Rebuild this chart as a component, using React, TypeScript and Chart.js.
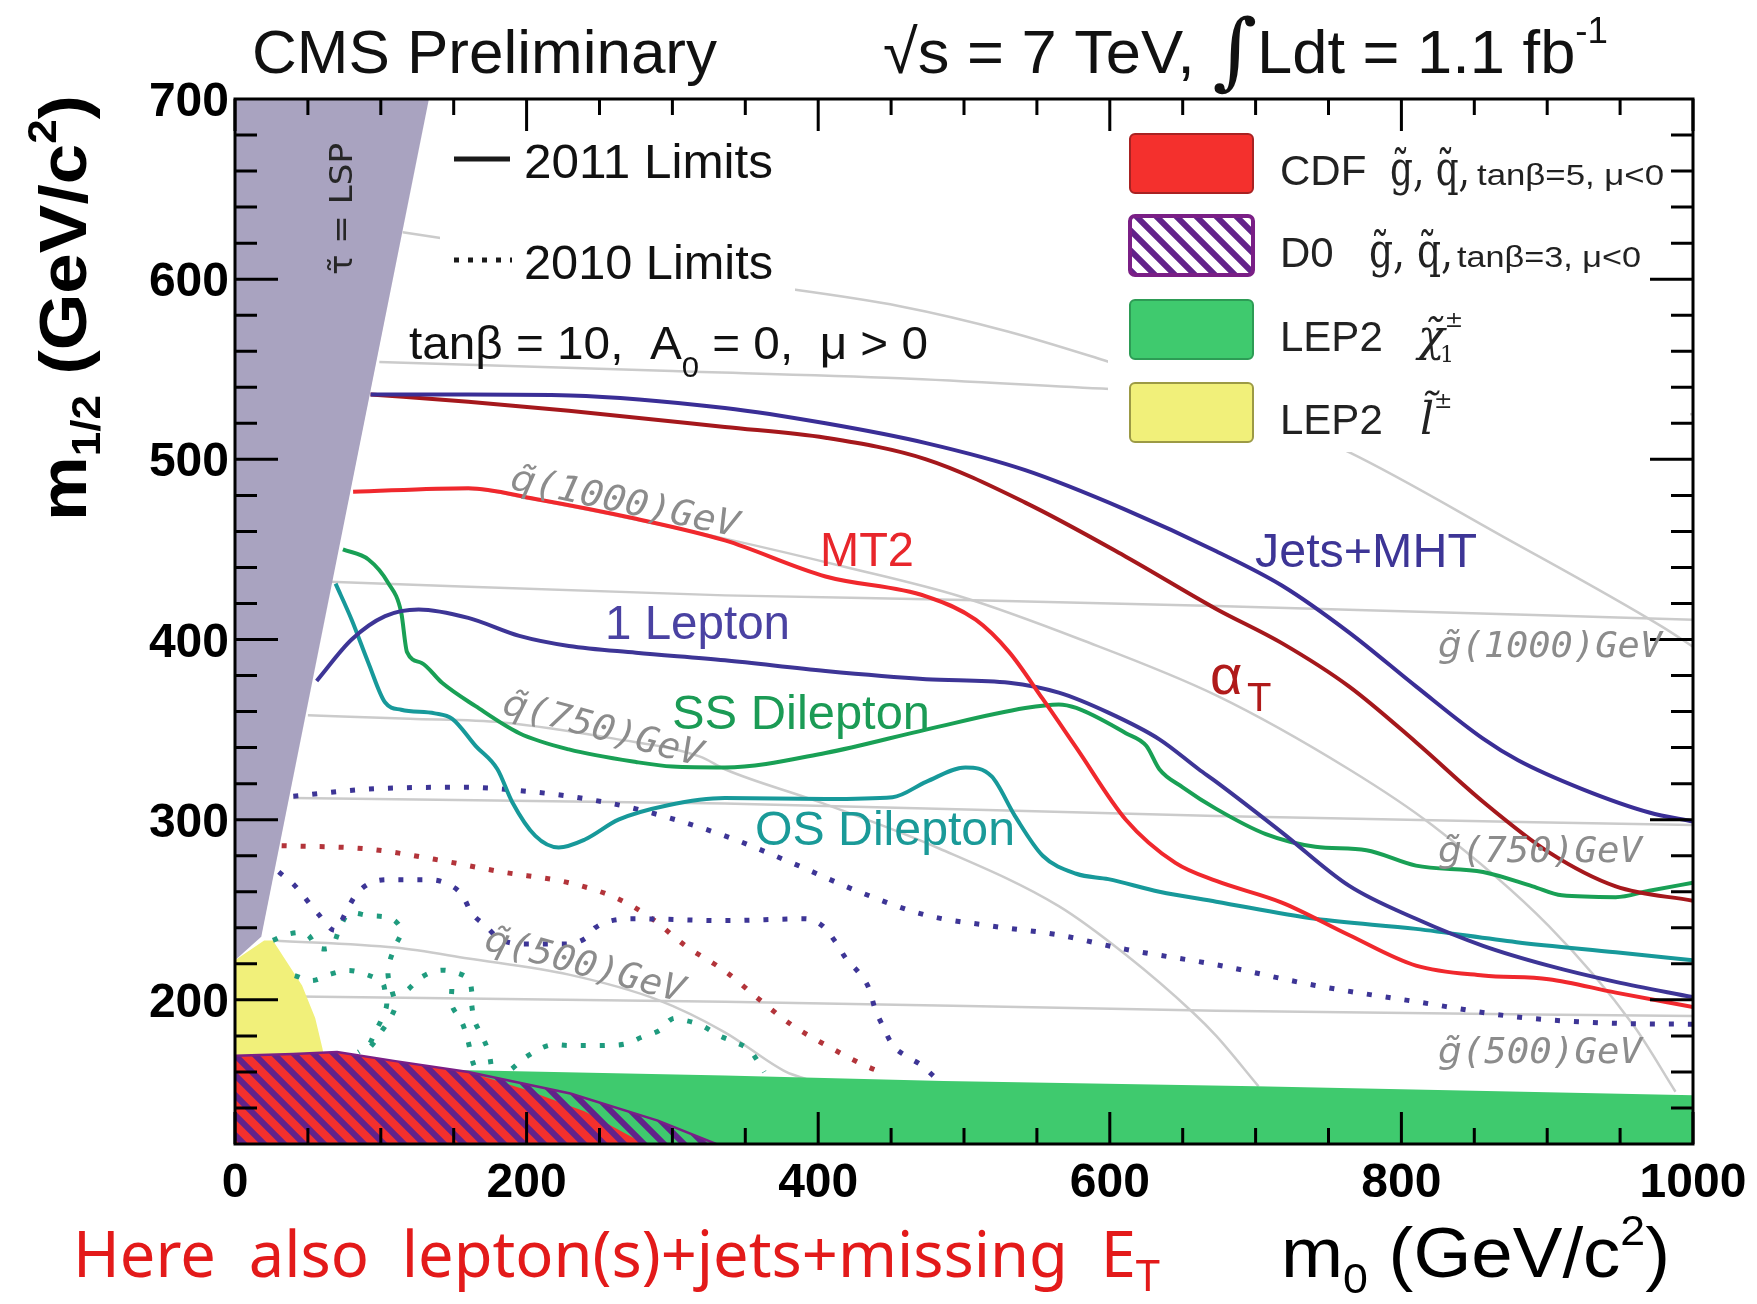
import React, { useEffect, useRef } from 'react';
import { Chart, registerables } from 'chart.js';

Chart.register(...registerables);

type P = [number, number];

// ---- axis ticks ----
const X_TICKS = [0, 200, 400, 600, 800, 1000];
const Y_TICKS = [200, 300, 400, 500, 600, 700];

// ---- 2011 limits (solid) ----
const JETS_MHT: P[] = [[93,536],[160,536],[230,535.5],[336,528.5],[405,520],[474,509],[542,494],[611,472],[673,449],[718,430],[764,404],[810,374],[856,345],[880,333],[924,317],[970,304],[1000,299]];
const ALPHA_T: P[] = [[93,536],[160,532],[229,527],[336,518],[405,512],[474,500],[542,476],[611,446],[673,417],[718,398],[764,374],[810,343],[856,310],[901,282],[947,263],[1000,255]];
const MT2: P[] = [[81,482],[160,484],[206,478],[275,467],[336,455],[405,435],[474,424],[508,411],[531,393],[554,367],[577,340],[611,300],[645,276],[673,266],[718,254],[764,236],[810,219],[856,213.5],[901,211.5],[947,204],[1000,196]];
const ONE_LEPTON: P[] = [[56,377],[80,400],[103,413],[126,416.7],[160,412],[195,402],[229,396.4],[275,392.7],[336,388.5],[405,382.5],[474,378],[531,376],[565,370.5],[599,359.4],[634,344.6],[661,328],[673,321],[718,293],[764,263.4],[810,245],[856,230],[901,219],[947,210],[1000,201.5]];
const SS_DILEPTON: P[] = [[74,450],[91.5,444.4],[105,431.5],[114,415],[118,393],[128,387],[142,376],[165,363],[195,348],[229,339],[275,332],[300,329.5],[336,329],[405,337],[474,350],[542,362],[565,364],[577,362],[611,348],[625,341],[634,328],[650,318],[673,306],[707,292],[741,285],[776,283],[810,274.5],[856,271],[890,263],[910,258],[947,257],[970,260.6],[1000,265]];
const OS_DILEPTON: P[] = [[69,431],[80,411],[91.5,387],[103,365],[114,361],[137,359],[149,356],[165,341],[180,328],[190,310],[206,291],[222,284.6],[240,289],[263,300],[297,308],[336,312],[405,311.5],[451,312.5],[474,321],[501,329],[519,324],[535,302],[554,280],[577,270],[599,267],[634,260],[673,254.5],[741,245],[810,239.4],[879,232],[947,226.4],[1000,222]];

// ---- 2010 limits (dotted) ----
const DOT_BLUE_A: P[] = [[40,313],[91.5,317],[160,318],[183,317],[229,313],[275,306],[336,291],[382,276],[428,260],[474,247],[519,241],[565,236],[611,228],[673,219.5],[741,208],[810,199],[879,190.5],[947,187],[1000,186.5]];
const DOT_BLUE_B: P[] = [[30,271],[41,263.4],[57,247.7],[68.6,238.5],[75.5,247.7],[82.4,257.8],[91.5,264.3],[105,266.7],[133,266.7],[146,264.3],[156,258],[162,248.6],[172,241],[181,234],[200,231],[225,231],[240,234],[247,240],[258.5,244],[275,245],[336,244],[391,245],[403,241],[412,232],[419,223],[428,215],[435,206],[439,195],[444,186],[451,175],[460,169],[471,163.6],[480,157]];
const DOT_RED: P[] = [[32,285.6],[91.5,283.7],[137,278],[183,271],[229,265],[263,256],[286,245],[309,230],[336,216],[359,200.6],[382,186],[405,175],[432,163.6],[446,159]];
const DOT_GREEN_1: P[] = [[26,233],[37,236.6],[49,236.6],[57,229],[66,229.5],[72,240],[78,247.7],[91.5,246.8],[107.5,245],[114,238.5],[110,230],[106,221],[105,213.5],[108,204],[110,197],[106,189],[100,182],[94,175],[88,170]];
const DOT_GREEN_2: P[] = [[41,213.5],[52.6,210.7],[66,214.4],[78,216.3],[89,214.4],[100.7,209.8],[103,204.3],[104,197],[100.7,189.5],[96,182],[91.5,174.7],[84.6,171]];
const DOT_GREEN_3: P[] = [[119,206],[128,212.6],[139.6,216.3],[151,215.3],[160,211.6],[162.4,204.3],[162.4,197],[164.7,187.6],[169.3,180.2],[174,171],[176,162]];
const DOT_GREEN_4: P[] = [[148.7,206],[148.7,197],[155.6,187.6],[160,176.5],[162.4,167.3],[164.7,161.8]];
const DOT_GREEN_5: P[] = [[190,161.8],[201,169],[215,174.7],[229,174.7],[242.5,174.7],[254,174.7],[268,175.6],[279,179.3],[291,183],[300,189.5],[309,188.6],[320,185.8],[332,180.2],[343,176.5],[352,172.8],[359,165.5],[363,160]];

// ---- excluded regions ----
const LSP_EDGE: P[] = [[0,222],[18,235],[133,700]];
const LEP2_SLEPTON: P[] = [[0,222],[20,233],[26,233],[34,223],[46,208],[55,190],[60,173],[63,160]];
const LEP2_CHARGINO: P[] = [[0,161],[160,161],[336,158],[486,155],[700,152],[1000,147]];
const CDF_REGION: P[] = [[0,169],[40,170],[70,171],[110,166],[160,160],[200,150],[240,138],[281,120]];
const D0_REGION: P[] = [[0,169],[40,170],[70,171],[110,166],[160,160],[230,148],[290,133],[330,120]];

// ---- squark / gluino iso-mass contours ----
const SQ1250: P[] = [[115,626],[230,612],[350,598],[456,585],[530,571],[596,555],[680,533],[764,504],[870,457],[979,407],[1000,396]];
const GL1250: P[] = [[99,554],[300,549],[456,545],[600,539],[800,532],[1000,525]];
const SQ1000: P[] = [[82,482],[160,483.5],[206,477.5],[275,466.5],[336,456],[420,440],[497,424],[580,400],[673,369],[764,328],[821,297],[901,241],[959,186],[988,149]];
const SQ750: P[] = [[50,358],[120,356],[183,354],[260,345],[319,335],[336,328],[400,310],[483,284],[565,252],[611,225],[657,193],[673,180],[702,152]];
const SQ500: P[] = [[26,233],[110,229],[160,223],[229,214],[290,200],[336,182],[378,160],[392,156]];
const GL1000: P[] = [[65,432],[336,424.5],[500,422],[673,418.6],[1000,411]];
const GL750: P[] = [[40,312],[336,309],[673,302],[1000,297]];
const GL500: P[] = [[28,202],[336,199],[673,194],[1000,191]];

const SANS = '"Liberation Sans", Arial, Helvetica, sans-serif';
const MONO = '"DejaVu Sans Mono", monospace';
const SERIF = '"DejaVu Serif", serif';
const DSANS = '"DejaVu Sans", sans-serif';
const NOTO = '"Noto Sans", sans-serif';

const pts = (a: P[]) => a.map(([x, y]) => ({ x, y }));

type Seg = { t: string; f: string; dy?: number; c?: string };

function rich(ctx: CanvasRenderingContext2D, segs: Seg[], x: number, y: number,
  o: { align?: 'left' | 'center' | 'right'; fit?: number; rot?: number; color?: string; vshift?: number } = {}) {
  ctx.save();
  ctx.translate(x, y);
  if (o.rot) ctx.rotate(o.rot);
  ctx.textAlign = 'left';
  ctx.textBaseline = 'alphabetic';
  let w = 0;
  for (const s of segs) { ctx.font = s.f; w += ctx.measureText(s.t).width; }
  const sx = o.fit ? o.fit / w : 1;
  const tw = w * sx;
  const start = o.align === 'center' ? -tw / 2 : o.align === 'right' ? -tw : 0;
  ctx.translate(start, o.vshift || 0);
  ctx.scale(sx, 1);
  let cx = 0;
  for (const s of segs) {
    ctx.font = s.f;
    ctx.fillStyle = s.c || o.color || '#111';
    ctx.fillText(s.t, cx, s.dy || 0);
    cx += ctx.measureText(s.t).width;
  }
  ctx.restore();
}

function makeDecor(hatch: CanvasPattern) {
  return {
    id: 'decor',
    afterDatasetsDraw(chart: any) {
      const { ctx, chartArea: a, scales } = chart;
      const xs = scales.x, ys = scales.y;
      const O = 8;
      ctx.save();
      // legend backgrounds (white boxes hiding contour lines)
      ctx.fillStyle = '#ffffff';
      ctx.fillRect(440 - O, 120 - O, 355, 178);
      ctx.fillRect(1108 - O, 118 - O, 582, 334);

      // frame and inward ticks
      ctx.strokeStyle = '#000';
      ctx.lineWidth = 3;
      ctx.strokeRect(a.left, a.top, a.right - a.left, a.bottom - a.top);
      ctx.beginPath();
      for (let v = 0; v <= 1000; v += 50) {
        const px = xs.getPixelForValue(v);
        const len = v % 200 === 0 ? 32 : 16;
        ctx.moveTo(px, a.bottom); ctx.lineTo(px, a.bottom - len);
        ctx.moveTo(px, a.top); ctx.lineTo(px, a.top + len);
      }
      for (let v = 140; v < 700; v += 20) {
        const py = ys.getPixelForValue(v);
        const len = v % 100 === 0 ? 43 : 22;
        ctx.moveTo(a.left, py); ctx.lineTo(a.left + len, py);
        ctx.moveTo(a.right, py); ctx.lineTo(a.right - len, py);
      }
      ctx.stroke();

      // tick labels
      ctx.fillStyle = '#000';
      ctx.font = `bold 48px ${SANS}`;
      ctx.textBaseline = 'alphabetic';
      ctx.textAlign = 'center';
      for (const v of X_TICKS) ctx.fillText(String(v), xs.getPixelForValue(v), 1197 - O);
      ctx.textAlign = 'right';
      for (const v of Y_TICKS) ctx.fillText(String(v), 229 - O, ys.getPixelForValue(v) + 17);

      // everything below in page coordinates
      ctx.translate(-O, -O);

      // header
      rich(ctx, [{ t: 'CMS Preliminary', f: `62px ${SANS}` }], 252, 73, { fit: 465, color: '#111' });
      rich(ctx, [
        { t: '√s = 7 TeV, ', f: `62px ${SANS}` },
        { t: '∫', f: `84px ${SERIF}`, dy: 6 },
        { t: 'Ldt = 1.1 fb', f: `62px ${SANS}` },
        { t: '-1', f: `36px ${SANS}`, dy: -30 },
      ], 883, 73, { fit: 725, color: '#111' });

      // axis titles
      rich(ctx, [
        { t: 'm', f: `bold 66px ${SANS}` },
        { t: '1/2', f: `bold 40px ${SANS}`, dy: 14 },
        { t: ' (GeV/c', f: `bold 66px ${SANS}` },
        { t: '2', f: `bold 40px ${SANS}`, dy: -30 },
        { t: ')', f: `bold 66px ${SANS}` },
      ], 86, 521, { rot: -Math.PI / 2, fit: 426, color: '#000' });
      rich(ctx, [
        { t: 'm', f: `70px ${SANS}` },
        { t: '0', f: `42px ${SANS}`, dy: 16 },
        { t: ' (GeV/c', f: `70px ${SANS}` },
        { t: '2', f: `42px ${SANS}`, dy: -32 },
        { t: ')', f: `70px ${SANS}` },
      ], 1281, 1277, { fit: 389, color: '#000' });

      // red annotation
      rich(ctx, [
        { t: 'Here  also  lepton(s)+jets+missing  E', f: `64px ${NOTO}` },
        { t: 'T', f: `44px ${NOTO}`, dy: 14 },
      ], 73, 1277, { fit: 1087, color: '#e31a1a' });

      // model parameters
      rich(ctx, [
        { t: 'tanβ = 10,  A', f: `46px ${SANS}` },
        { t: '0', f: `30px ${SANS}`, dy: 18 },
        { t: ' = 0,  μ > 0', f: `46px ${SANS}` },
      ], 409, 359, { fit: 519, color: '#111' });

      // top-left legend
      ctx.strokeStyle = '#1a1a1a';
      ctx.lineWidth = 5;
      ctx.beginPath(); ctx.moveTo(454, 159); ctx.lineTo(510, 159); ctx.stroke();
      ctx.setLineDash([5, 9]);
      ctx.beginPath(); ctx.moveTo(454, 260); ctx.lineTo(512, 260); ctx.stroke();
      ctx.setLineDash([]);
      rich(ctx, [{ t: '2011 Limits', f: `49px ${SANS}` }], 524, 178, { fit: 249, color: '#111' });
      rich(ctx, [{ t: '2010 Limits', f: `49px ${SANS}` }], 524, 279, { fit: 249, color: '#111' });

      // right legend boxes
      const box = (y: number, fill: string | CanvasPattern, stroke: string, lw: number, white = false) => {
        ctx.beginPath();
        ctx.roundRect(1130, y, 123, 59, 5);
        if (white) { ctx.fillStyle = '#fff'; ctx.fill(); }
        ctx.fillStyle = fill as any; ctx.fill();
        ctx.strokeStyle = stroke; ctx.lineWidth = lw; ctx.stroke();
      };
      box(134, '#f4302d', '#a82222', 2);
      box(216, hatch, '#7a1f86', 4, true);
      box(300, '#3fca6e', '#2d9c55', 2);
      box(383, '#f1f07a', '#9c9a45', 2);

      rich(ctx, [{ t: 'CDF', f: `42px ${SANS}` }], 1280, 185, { color: '#222' });
      rich(ctx, [{ t: 'g\u0303, q\u0303,', f: `48px ${SERIF}` }], 1390, 185, { fit: 80, color: '#222' });
      rich(ctx, [{ t: 'tanβ=5, μ<0', f: `30px ${SANS}` }], 1477, 185, { fit: 187, color: '#222' });
      rich(ctx, [{ t: 'D0', f: `42px ${SANS}` }], 1280, 267, { color: '#222' });
      rich(ctx, [{ t: 'g\u0303, q\u0303,', f: `48px ${SERIF}` }], 1369, 267, { fit: 84, color: '#222' });
      rich(ctx, [{ t: 'tanβ=3, μ<0', f: `30px ${SANS}` }], 1457, 267, { fit: 184, color: '#222' });
      rich(ctx, [{ t: 'LEP2', f: `42px ${SANS}` }], 1280, 351, { color: '#222' });
      rich(ctx, [
        { t: 'χ\u0303', f: `italic 44px ${SERIF}` },
        { t: '±', f: `22px ${SERIF}`, dy: -24 },
      ], 1418, 351, { color: '#222' });
      rich(ctx, [{ t: '1', f: `22px ${SERIF}` }], 1440, 362, { color: '#222' });
      rich(ctx, [{ t: 'LEP2', f: `42px ${SANS}` }], 1280, 434, { color: '#222' });
      rich(ctx, [
        { t: 'l\u0303', f: `italic 44px ${SERIF}` },
        { t: '±', f: `22px ${SERIF}`, dy: -26 },
      ], 1420, 434, { color: '#222' });

      // curve labels
      rich(ctx, [{ t: 'Jets+MHT', f: `48px ${SANS}` }], 1255, 567, { fit: 222, color: '#3d3596' });
      rich(ctx, [{ t: '1 Lepton', f: `48px ${SANS}` }], 605, 639, { fit: 185, color: '#4a42a2' });
      rich(ctx, [{ t: 'MT2', f: `48px ${SANS}` }], 820, 566, { fit: 94, color: '#e8262b' });
      rich(ctx, [{ t: 'SS Dilepton', f: `48px ${SANS}` }], 672, 729, { fit: 258, color: '#1b9b55' });
      rich(ctx, [{ t: 'OS Dilepton', f: `48px ${SANS}` }], 755, 845, { fit: 260, color: '#1a9a98' });
      rich(ctx, [{ t: 'α', f: `56px ${SANS}` }], 1210, 694, { color: '#b01a1a' });
      rich(ctx, [{ t: 'T', f: `40px ${SANS}` }], 1247, 711, { color: '#b01a1a' });

      // contour labels
      const grey = '#8c8c8c';
      const mf = `italic 36px ${MONO}`;
      const tf = `italic 36px ${DSANS}`;
      rich(ctx, [{ t: 'g\u0303', f: tf }, { t: '(1000)GeV', f: mf }], 1438, 657, { fit: 224, color: grey });
      rich(ctx, [{ t: 'g\u0303', f: tf }, { t: '(750)GeV', f: mf }], 1438, 862, { fit: 204, color: grey });
      rich(ctx, [{ t: 'g\u0303', f: tf }, { t: '(500)GeV', f: mf }], 1438, 1063, { fit: 204, color: grey });
      rich(ctx, [{ t: 'q\u0303', f: tf }, { t: '(1000)GeV', f: mf }], 625, 501, { align: 'center', fit: 232, rot: 12 * Math.PI / 180, vshift: 12, color: grey });
      rich(ctx, [{ t: 'q\u0303', f: tf }, { t: '(750)GeV', f: mf }], 603, 728, { align: 'center', fit: 205, rot: 15 * Math.PI / 180, vshift: 12, color: grey });
      rich(ctx, [{ t: 'q\u0303', f: tf }, { t: '(500)GeV', f: mf }], 585, 964, { align: 'center', fit: 205, rot: 15 * Math.PI / 180, vshift: 12, color: grey });

      // LSP label
      rich(ctx, [{ t: 'τ\u0303 = LSP', f: `32px ${DSANS}` }], 352, 275, { rot: -Math.PI / 2, fit: 132, color: '#262626' });

      ctx.restore();
    },
  };
}

export default function App() {
  const ref = useRef<HTMLCanvasElement>(null);
  useEffect(() => {
    const canvas = ref.current!;
    const ctx = canvas.getContext('2d')!;
    const pc = document.createElement('canvas');
    pc.width = 20; pc.height = 20;
    const p = pc.getContext('2d')!;
    p.strokeStyle = '#62228a';
    p.lineWidth = 6;
    p.beginPath();
    p.moveTo(-5, -5); p.lineTo(25, 25);
    p.moveTo(-5, 15); p.lineTo(5, 25);
    p.moveTo(15, -5); p.lineTo(25, 5);
    p.stroke();
    const hatch = ctx.createPattern(pc, 'repeat')!;

    const solid = (d: P[], color: string, order: number) => ({
      data: pts(d), borderColor: color, borderWidth: 4, pointRadius: 0, fill: false,
      cubicInterpolationMode: 'monotone', order,
    });
    const dotted = (d: P[], color: string, order: number, mono = true) => ({
      data: pts(d), borderColor: color, borderWidth: 5, pointRadius: 0, fill: false,
      borderDash: [5, 14], borderCapStyle: 'butt',
      ...(mono ? { cubicInterpolationMode: 'monotone' } : { tension: 0.35 }), order,
    });
    const contour = (d: P[]) => ({
      data: pts(d), borderColor: '#cbcbcb', borderWidth: 2.5, pointRadius: 0, fill: false,
      cubicInterpolationMode: 'monotone', order: 60,
    });
    const region = (d: P[], bg: any, fill: string, order: number, border = 'rgba(0,0,0,0)', bw = 0) => ({
      data: pts(d), backgroundColor: bg, borderColor: border, borderWidth: bw, pointRadius: 0,
      fill, tension: 0, order,
    });

    const datasets: any[] = [
      contour(SQ1250), contour(GL1250), contour(SQ1000), contour(SQ750), contour(SQ500),
      contour(GL1000), contour(GL750), contour(GL500),
      region(LEP2_SLEPTON, '#f1f07a', 'start', 52),
      region(LEP2_CHARGINO, '#3fca6e', 'start', 50),
      region(CDF_REGION, '#f4302d', 'start', 49),
      region(D0_REGION, hatch, 'start', 48, '#7a1f86', 2.5),
      region(LSP_EDGE, '#a9a3c0', 'end', 46),
      dotted(DOT_GREEN_1, '#1f9b7e', 30, false),
      dotted(DOT_GREEN_2, '#1f9b7e', 30, false),
      dotted(DOT_GREEN_3, '#1f9b7e', 30, false),
      dotted(DOT_GREEN_4, '#1f9b7e', 30, false),
      dotted(DOT_GREEN_5, '#1f9b7e', 30, false),
      dotted(DOT_RED, '#b3343a', 29),
      dotted(DOT_BLUE_B, '#3d3596', 28),
      dotted(DOT_BLUE_A, '#3d3596', 27),
      solid(OS_DILEPTON, '#17999a', 16),
      solid(SS_DILEPTON, '#19a055', 15),
      solid(ONE_LEPTON, '#3d3596', 14),
      solid(MT2, '#f0282d', 13),
      solid(ALPHA_T, '#a5181c', 12),
      solid(JETS_MHT, '#3a2e96', 11),
    ];

    const chart = new Chart(canvas, {
      type: 'line',
      data: { datasets },
      options: {
        responsive: false,
        animation: false,
        devicePixelRatio: 1,
        layout: { padding: { left: 227, top: 91, right: 56, bottom: 152 } },
        scales: {
          x: { type: 'linear', min: 0, max: 1000, display: false },
          y: { type: 'linear', min: 120, max: 700, display: false },
        },
        plugins: { legend: { display: false }, tooltip: { enabled: false } },
        elements: { point: { radius: 0 } },
      } as any,
      plugins: [makeDecor(hatch)],
    });
    return () => chart.destroy();
  }, []);
  return (
    <div style={{ width: 1741, height: 1288 }}>
      <canvas ref={ref} width={1741} height={1288} style={{ display: 'block', width: 1741, height: 1288 }} />
    </div>
  );
}
